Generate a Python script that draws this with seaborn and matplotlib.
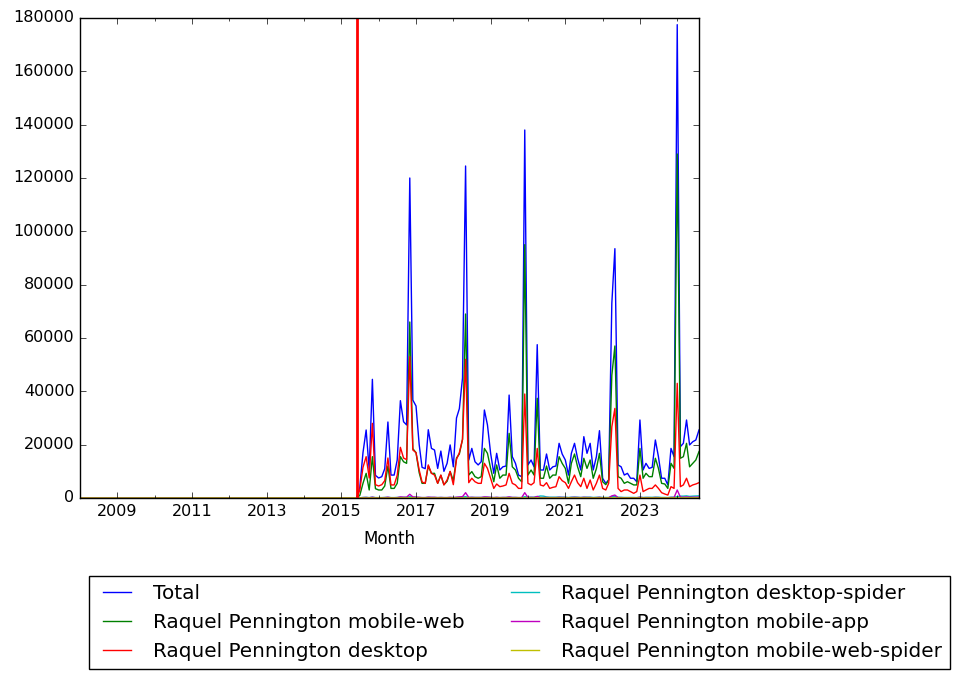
import matplotlib
matplotlib.use('Agg')
import matplotlib.dates as mdates
import matplotlib.pyplot as plt
import matplotlib.ticker as mticker
import pandas as pd
import seaborn as sns

plt.style.use('classic')

FIRST_MONTH = '2008-01-01'
LAST_MONTH = '2024-08-01'
ZERO_MONTHS = 90  # 2008-01 .. 2015-06: nothing recorded
MARKER_DATE = '2015-06-01'
TICK_YEARS = [2009, 2011, 2013, 2015, 2017, 2019, 2021, 2023]

# monthly views from 2015-07 to 2024-08
TOTAL = [
    4000, 17000, 25500, 10500, 44500, 8500, 7500, 8000, 11000, 28500,
    8600, 8600, 14250, 36500, 28600, 27400, 120000, 36700, 34500, 20000,
    11500, 11000, 25600, 18600, 18000, 11100, 17600, 10000, 13000, 19900,
    11700, 30000, 33500, 45000, 124500, 14250, 18600, 13600, 12400, 13600,
    33000, 27400, 16750, 9250, 16750, 10500, 11700, 12000, 38600, 15500,
    13000, 8600, 8000, 138000, 12400, 14250, 11700, 57500, 10500, 10500,
    16500, 10500, 11700, 12000, 20500, 16500, 14250, 8600, 16750, 20500,
    14900, 10500, 23000, 16750, 20500, 10500, 15500, 25250, 7400, 5500,
    6750, 73000, 93500, 12400, 11700, 8600, 9250, 7400, 7400, 6100,
    29250, 10500, 13000, 11100, 11500, 21750, 15500, 7400, 7400, 4900,
    18600, 15500, 177500, 19250, 20500, 29250, 19900, 21100, 21750, 25500,
]
MOBILE_WEB = [
    1000, 5500, 9250, 3000, 15500, 3500, 3000, 3000, 4500, 12000,
    3600, 3600, 5500, 15500, 13600, 13000, 66000, 18500, 17000, 9500,
    5500, 5500, 12000, 9250, 9250, 5500, 8500, 5000, 6250, 9900,
    6500, 15000, 16500, 22000, 69000, 8600, 9900, 8000, 7400, 8000,
    18600, 16750, 11100, 6100, 12400, 7400, 8600, 8600, 24250, 11700,
    10500, 7400, 6100, 95000, 8600, 10500, 8600, 37400, 7400, 7400,
    12000, 7400, 8600, 8600, 15500, 13000, 11100, 5500, 13000, 16500,
    11700, 8000, 14900, 11100, 14250, 7400, 11000, 16750, 6100, 5000,
    6750, 46000, 57000, 8000, 7400, 5500, 6100, 5500, 4900, 4900,
    18600, 7400, 9250, 8000, 8000, 14900, 11100, 5500, 5250, 3600,
    13000, 11100, 129000, 14900, 15500, 20500, 11700, 13000, 14250, 17400,
]
DESKTOP = [
    3000, 11500, 15500, 7500, 28000, 5000, 4500, 5000, 6500, 15000,
    4900, 4900, 8500, 19000, 15000, 14400, 53000, 18000, 17000, 10500,
    6000, 5500, 12400, 9250, 8600, 5500, 8600, 4900, 6750, 10000,
    5000, 14500, 17000, 22000, 52000, 5750, 7400, 6100, 5500, 5500,
    13000, 11100, 7400, 3600, 5250, 4250, 4500, 4900, 9250, 5500,
    4900, 3600, 3600, 39000, 5500, 4900, 5750, 18600, 4900, 4500,
    5750, 3600, 4000, 4250, 8000, 6500, 5750, 3600, 6100, 8600,
    5750, 4250, 7400, 3600, 6750, 3000, 5500, 8600, 3600, 3000,
    5500, 26700, 33600, 3600, 2400, 3000, 3000, 2400, 1750, 2400,
    8600, 2400, 3000, 3600, 3600, 4900, 3600, 2000, 1500, 1100,
    4250, 3600, 43000, 4250, 4900, 7400, 4250, 4900, 5250, 5750,
]
DESKTOP_SPIDER = [
    100, 200, 250, 150, 300, 150, 150, 150, 200, 250,
    150, 150, 200, 300, 250, 250, 500, 300, 250, 200,
    150, 150, 250, 200, 200, 150, 200, 150, 150, 200,
    150, 250, 300, 350, 500, 200, 250, 200, 200, 200,
    300, 300, 200, 150, 200, 150, 200, 200, 300, 200,
    200, 150, 150, 500, 300, 300, 300, 500, 750, 700,
    400, 300, 300, 300, 350, 300, 300, 200, 300, 350,
    300, 200, 300, 300, 300, 200, 250, 300, 200, 200,
    200, 500, 600, 300, 250, 200, 200, 200, 200, 150,
    300, 200, 250, 250, 250, 300, 300, 200, 200, 150,
    300, 300, 500, 700, 700, 800, 600, 700, 750, 800,
]
MOBILE_APP = [
    50, 150, 200, 100, 300, 100, 100, 100, 150, 300,
    100, 100, 150, 400, 300, 300, 1400, 400, 350, 250,
    150, 150, 300, 250, 250, 150, 200, 150, 150, 250,
    150, 300, 400, 500, 2000, 200, 250, 200, 200, 200,
    400, 350, 250, 150, 250, 150, 200, 200, 400, 200,
    200, 150, 150, 2000, 200, 250, 200, 600, 150, 150,
    200, 150, 150, 150, 250, 200, 200, 100, 200, 250,
    200, 150, 250, 200, 200, 100, 150, 250, 100, 100,
    100, 800, 1100, 150, 150, 100, 100, 100, 100, 100,
    300, 100, 150, 150, 100, 200, 150, 100, 100, 100,
    200, 200, 3000, 300, 300, 400, 300, 300, 300, 350,
]
MOBILE_WEB_SPIDER = [
    10, 20, 30, 20, 40, 20, 20, 20, 20, 30,
    20, 20, 20, 40, 30, 30, 60, 40, 30, 30,
    20, 20, 30, 30, 30, 20, 30, 20, 20, 30,
    20, 30, 40, 40, 60, 30, 30, 30, 30, 30,
    40, 40, 30, 20, 30, 20, 30, 30, 40, 30,
    30, 20, 20, 60, 30, 30, 30, 50, 40, 40,
    30, 30, 30, 30, 40, 30, 30, 20, 30, 40,
    30, 20, 30, 30, 30, 20, 30, 30, 20, 20,
    20, 50, 60, 30, 30, 20, 20, 20, 20, 20,
    30, 20, 30, 30, 30, 30, 30, 20, 20, 20,
    30, 30, 60, 40, 40, 50, 40, 40, 40, 50,
]

LABELS = [
    'Total',
    'Raquel Pennington mobile-web',
    'Raquel Pennington desktop',
    'Raquel Pennington desktop-spider',
    'Raquel Pennington mobile-app',
    'Raquel Pennington mobile-web-spider',
]
VALUES = [TOTAL, MOBILE_WEB, DESKTOP, DESKTOP_SPIDER, MOBILE_APP, MOBILE_WEB_SPIDER]
COLORS = ['b', 'g', 'r', 'c', 'm', 'y']

months = pd.date_range(FIRST_MONTH, LAST_MONTH, freq='MS')
frame = pd.DataFrame({'Month': months})
for label, values in zip(LABELS, VALUES):
    frame[label] = [0] * ZERO_MONTHS + values
long = frame.melt(id_vars='Month', var_name='series', value_name='views')

fig = plt.figure(figsize=(9.61, 6.79), dpi=100)
ax = fig.add_axes([80 / 961, 1 - 498 / 679, 619 / 961, 480 / 679])

sns.lineplot(
    data=long, x='Month', y='views', hue='series', hue_order=LABELS,
    palette=dict(zip(LABELS, COLORS)), linewidth=1.0, errorbar=None,
    legend=False, ax=ax,
)
handles = list(ax.get_lines()[:len(LABELS)])
ax.axvline(pd.Timestamp(MARKER_DATE), color='r', linewidth=2)

ax.set_xlim(pd.Timestamp(FIRST_MONTH), pd.Timestamp(LAST_MONTH))
ax.set_ylim(0, 180000)
ax.yaxis.set_major_locator(mticker.MultipleLocator(20000))
ax.xaxis.set_major_locator(mticker.FixedLocator(
    mdates.date2num([pd.Timestamp(f'{y}-01-01') for y in TICK_YEARS])))
ax.xaxis.set_major_formatter(mdates.DateFormatter('%Y'))
ax.xaxis.set_minor_locator(mdates.YearLocator(1))
ax.tick_params(labelsize=11.5)
ax.set_xlabel('Month', fontsize=12, labelpad=8)
ax.set_ylabel('')

fig.legend(
    handles, LABELS, loc='upper left', bbox_to_anchor=(89 / 961, 1 - 576 / 679),
    borderaxespad=0, ncol=2, fontsize=14.4,
)

fig.savefig('out.png', dpi=100)
